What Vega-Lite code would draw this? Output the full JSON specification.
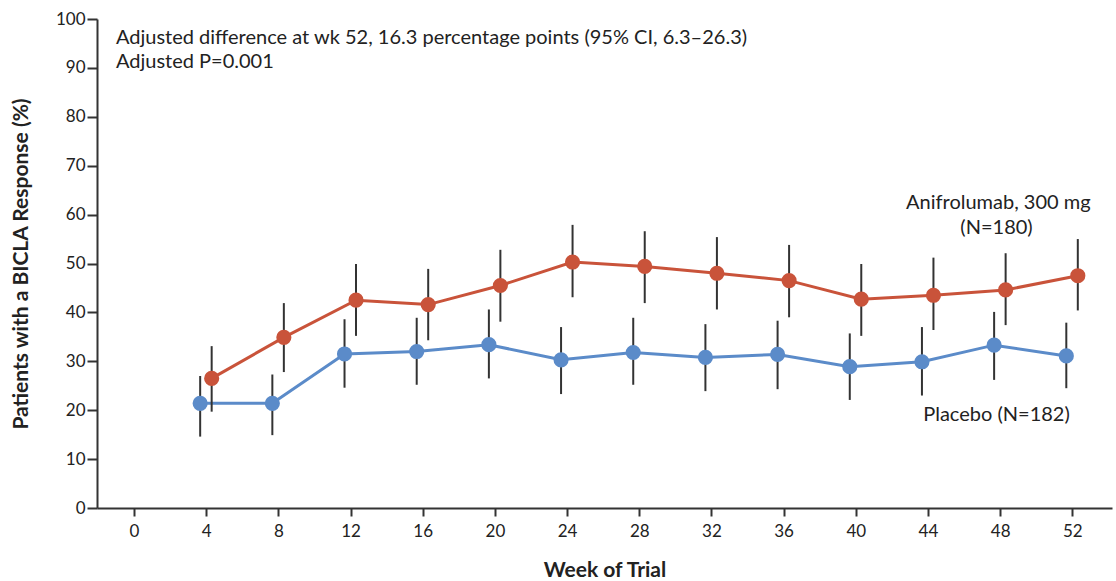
{
  "$schema": "https://vega.github.io/schema/vega-lite/v6.json",
  "width": 1015,
  "height": 489,
  "autosize": "none",
  "padding": {"left": 97, "top": 19, "right": 4, "bottom": 73},
  "background": "white",
  "config": {
    "view": {"stroke": null},
    "font": "Lato",
    "axis": {
      "grid": false,
      "domainColor": "#333333",
      "domainWidth": 2,
      "tickColor": "#333333",
      "tickWidth": 2,
      "labelFont": "Lato",
      "labelFontSize": 17,
      "labelColor": "#222222",
      "titleFont": "Lato",
      "titleFontWeight": "bold",
      "titleFontSize": 21,
      "titleColor": "#222222"
    }
  },
  "datasets": {
    "series": [
      {"week": 4, "group": "Anifrolumab", "pct": 26.5, "lo": 19.7, "hi": 33.1},
      {"week": 8, "group": "Anifrolumab", "pct": 34.9, "lo": 27.8, "hi": 41.9},
      {"week": 12, "group": "Anifrolumab", "pct": 42.5, "lo": 35.2, "hi": 49.9},
      {"week": 16, "group": "Anifrolumab", "pct": 41.6, "lo": 34.3, "hi": 48.9},
      {"week": 20, "group": "Anifrolumab", "pct": 45.5, "lo": 38.1, "hi": 52.8},
      {"week": 24, "group": "Anifrolumab", "pct": 50.3, "lo": 43.1, "hi": 57.9},
      {"week": 28, "group": "Anifrolumab", "pct": 49.4, "lo": 41.9, "hi": 56.6},
      {"week": 32, "group": "Anifrolumab", "pct": 48.0, "lo": 40.6, "hi": 55.4},
      {"week": 36, "group": "Anifrolumab", "pct": 46.5, "lo": 39.0, "hi": 53.8},
      {"week": 40, "group": "Anifrolumab", "pct": 42.7, "lo": 35.2, "hi": 49.9},
      {"week": 44, "group": "Anifrolumab", "pct": 43.5, "lo": 36.4, "hi": 51.2},
      {"week": 48, "group": "Anifrolumab", "pct": 44.6, "lo": 37.4, "hi": 52.1},
      {"week": 52, "group": "Anifrolumab", "pct": 47.5, "lo": 40.4, "hi": 55.0},
      {"week": 4, "group": "Placebo", "pct": 21.4, "lo": 14.6, "hi": 27.0},
      {"week": 8, "group": "Placebo", "pct": 21.4, "lo": 14.9, "hi": 27.3},
      {"week": 12, "group": "Placebo", "pct": 31.5, "lo": 24.6, "hi": 38.6},
      {"week": 16, "group": "Placebo", "pct": 32.0, "lo": 25.2, "hi": 38.9},
      {"week": 20, "group": "Placebo", "pct": 33.4, "lo": 26.5, "hi": 40.6},
      {"week": 24, "group": "Placebo", "pct": 30.3, "lo": 23.3, "hi": 37.0},
      {"week": 28, "group": "Placebo", "pct": 31.8, "lo": 25.2, "hi": 38.9},
      {"week": 32, "group": "Placebo", "pct": 30.8, "lo": 23.9, "hi": 37.6},
      {"week": 36, "group": "Placebo", "pct": 31.4, "lo": 24.3, "hi": 38.3},
      {"week": 40, "group": "Placebo", "pct": 28.9, "lo": 22.1, "hi": 35.7},
      {"week": 44, "group": "Placebo", "pct": 29.9, "lo": 23.0, "hi": 37.0},
      {"week": 48, "group": "Placebo", "pct": 33.3, "lo": 26.2, "hi": 40.1},
      {"week": 52, "group": "Placebo", "pct": 31.1, "lo": 24.5, "hi": 37.9}
    ],
    "notes": [
      {"week": -1.0, "pct": 96.1, "label": "Adjusted difference at wk 52, 16.3 percentage points (95% CI, 6.3–26.3)"},
      {"week": -1.0, "pct": 91.2, "label": "Adjusted P=0.001"}
    ],
    "labels": [
      {"week": 47.9, "pct": 62.4, "label": "Anifrolumab, 300 mg"},
      {"week": 47.8, "pct": 57.3, "label": "(N=180)"},
      {"week": 47.8, "pct": 19.0, "label": "Placebo (N=182)"}
    ]
  },
  "encoding": {
    "x": {
      "field": "week", "type": "quantitative",
      "scale": {"domain": [-2.05, 54.2], "nice": false, "zero": false},
      "axis": {"values": [0,4,8,12,16,20,24,28,32,36,40,44,48,52], "tickSize": 8, "labelPadding": 7, "title": "Week of Trial", "titlePadding": 20}
    },
    "y": {
      "field": "pct", "type": "quantitative",
      "scale": {"domain": [0, 100], "nice": false},
      "axis": {"values": [0,10,20,30,40,50,60,70,80,90,100], "tickSize": 10, "labelPadding": 2, "title": "Patients with a BICLA Response (%)", "titlePadding": 24}
    }
  },
  "layer": [
    {
      "data": {"name": "series"},
      "transform": [{"filter": "datum.group === 'Placebo'"}],
      "mark": {"type": "rule", "color": "#333333", "strokeWidth": 2, "xOffset": -6},
      "encoding": {"y": {"field": "lo", "type": "quantitative"}, "y2": {"field": "hi"}}
    },
    {
      "data": {"name": "series"},
      "transform": [{"filter": "datum.group === 'Placebo'"}],
      "mark": {"type": "line", "color": "#5b8bc9", "strokeWidth": 3, "xOffset": -6},
      "encoding": {}
    },
    {
      "data": {"name": "series"},
      "transform": [{"filter": "datum.group === 'Placebo'"}],
      "mark": {"type": "circle", "color": "#5b8bc9", "opacity": 1, "size": 230, "xOffset": -6},
      "encoding": {}
    },
    {
      "data": {"name": "series"},
      "transform": [{"filter": "datum.group === 'Anifrolumab'"}],
      "mark": {"type": "rule", "color": "#333333", "strokeWidth": 2, "xOffset": 5.5},
      "encoding": {"y": {"field": "lo", "type": "quantitative"}, "y2": {"field": "hi"}}
    },
    {
      "data": {"name": "series"},
      "transform": [{"filter": "datum.group === 'Anifrolumab'"}],
      "mark": {"type": "line", "color": "#c9533a", "strokeWidth": 3, "xOffset": 5.5},
      "encoding": {}
    },
    {
      "data": {"name": "series"},
      "transform": [{"filter": "datum.group === 'Anifrolumab'"}],
      "mark": {"type": "circle", "color": "#c9533a", "opacity": 1, "size": 230, "xOffset": 5.5},
      "encoding": {}
    },
    {
      "data": {"name": "notes"},
      "mark": {"type": "text", "align": "left", "baseline": "middle", "fontSize": 20, "color": "#222222", "font": "Lato"},
      "encoding": {"text": {"field": "label"}}
    },
    {
      "data": {"name": "labels"},
      "mark": {"type": "text", "align": "center", "baseline": "middle", "fontSize": 20, "color": "#222222", "font": "Lato"},
      "encoding": {"text": {"field": "label"}}
    }
  ]
}
